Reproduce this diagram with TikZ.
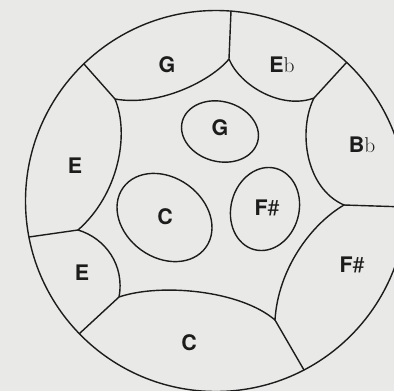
\documentclass[tikz,border=0pt]{standalone}
\usepackage{fontspec}
\usepackage{tikz}
\newfontfamily\notefont{TeX Gyre Heros}
\definecolor{paper}{RGB}{233,233,231}
\definecolor{ink}{RGB}{28,28,28}

\begin{document}
\begin{tikzpicture}[x=1bp, y=-1bp, line width=1.4bp, color=ink,
  note/.style={font=\notefont\bfseries\fontsize{21.5}{23}\selectfont, inner sep=0pt, anchor=base}]

% Fundo (papel)
\fill[paper] (0,0) rectangle (394,391);
\useasboundingbox (0,0) rectangle (394,391);
\clip (0,0) rectangle (394,391);

% Pontos de encontro
\coordinate (c) at (216,201);
\coordinate (j1) at (229,59);
\coordinate (j2) at (115,99);
\coordinate (j3) at (78,230);
\coordinate (j4) at (119,297);
\coordinate (j5) at (275,320);
\coordinate (j6) at (344,205);
\coordinate (j7) at (314,98);

% Pontos na borda
\coordinate (r1) at (231,11);
\coordinate (r2) at (83.8,63.8);
\coordinate (r3) at (29,237);
\coordinate (r4) at (79.3,333.7);
\coordinate (r5) at (304,370);
\coordinate (r6) at (406,207);
\coordinate (r7) at (346.6,62.4);

% Borda do tambor
\draw (c) circle [radius=190.5];

% Notas externas
\draw (j1) .. controls (212,80) and (160,107) .. (j2)
  .. controls (130,135) and (118,195) .. (j3)
  .. controls (105,238) and (125,265) .. (j4)
  .. controls (160,283) and (240,290) .. (j5)
  .. controls (278,270) and (310,225) .. (j6)
  .. controls (305,188) and (298,130) .. (j7)
  .. controls (282,110) and (240,86) .. (j1);
\draw (j1) -- (r1);
\draw (j2) -- (r2);
\draw (j3) -- (r3);
\draw (j4) -- (r4);
\draw (j5) -- (r5);
\draw (j6) -- (r6);
\draw (j7) -- (r7);

% Notas internas
\draw[rotate around={-15:(220,131.5)}] (220,131.5) ellipse [x radius=39, y radius=30];
\draw[rotate around={-36:(164.5,217.5)}] (164.5,217.5) ellipse [x radius=51, y radius=40];
\draw[rotate around={-15:(265,209)}] (265,209) ellipse [x radius=34, y radius=42];

% Nomes das notas
\node[note] (gout) at (167,72) {G};
\node[note] (ebout) at (282,72) {E{\rmfamily\mdseries b}};
\node[note] (bbout) at (362,152) {B{\rmfamily\mdseries b}};
\node[note] (eup) at (75,173) {E};
\node[note] (elow) at (82,280) {E};
\node[note] (cout) at (189,350) {C};
\node[note] (fsout) at (352,272) {F{\mdseries\#}};
\node[note] (gin) at (220,135) {G};
\node[note] (cin) at (165,224) {C};
\node[note] (fsin) at (267,215) {F{\mdseries\#}};

\end{tikzpicture}
\end{document}
